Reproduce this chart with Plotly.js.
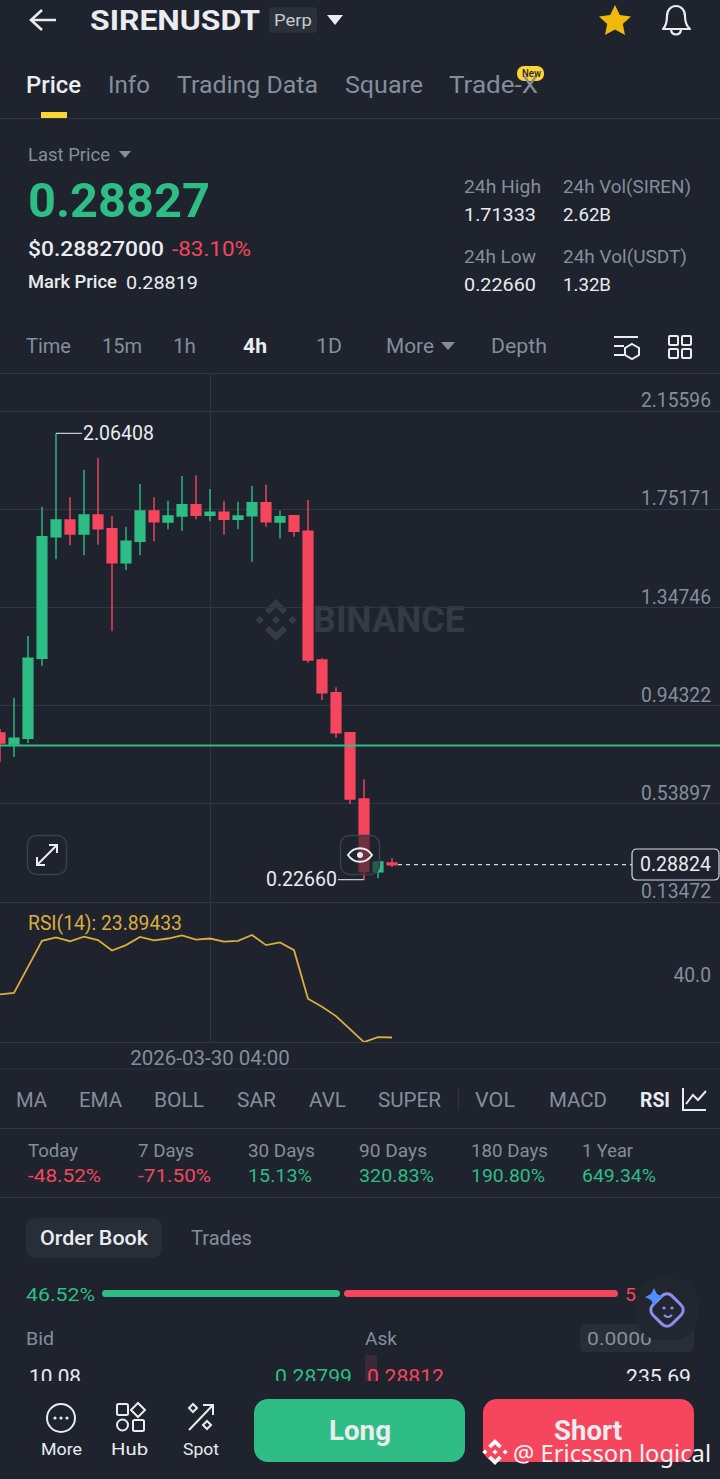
<!DOCTYPE html>
<html>
<head>
<meta charset="utf-8">
<script src="https://cdn.plot.ly/plotly-3.0.1.min.js"></script>
<style>
html,body{margin:0;padding:0;background:#1e232d;width:720px;height:1479px;overflow:hidden}
#stage{position:relative;width:720px;height:1479px;overflow:hidden;font-family:Roboto,sans-serif}
#mark,#plot,#chrome,#clip{position:absolute}
#plot{left:0;top:373px;width:720px;height:720px}
.t{position:absolute;white-space:pre;line-height:1;transform-origin:0 50%}
</style>
</head>
<body>
<div id="stage">
  <div id="mark"></div>
  <div id="plot"></div>
  <svg id="chrome" width="720" height="1479" viewBox="0 0 720 1479" style="left:0;top:0">
    <defs>
      <g id="bnb">
        <path d="M0 -1L.52 -.48L.32 -.28L0 -.6L-.32 -.28L-.52 -.48Z"/>
        <path d="M0 1L.52 .48L.32 .28L0 .6L-.32 .28L-.52 .48Z"/>
        <path d="M0 -.2L.2 0L0 .2L-.2 0Z"/>
        <path d="M-.78 -.2L-.58 0L-.78 .2L-.98 0Z"/>
        <path d="M.78 -.2L.98 0L.78 .2L.58 0Z"/>
      </g>
    </defs>
    <g stroke="#2f3541" stroke-width="1.2">
      <path d="M0 118.5H720M0 373.5H720M0 1069H720M0 1128.5H720M0 1197.5H720"/>
      <path d="M458.5 1088V1110"/>
    </g>
    <path d="M56 20H32M42 10L31 20L42 30" fill="none" stroke="#eaecef" stroke-width="2.6"/>
    <rect x="269" y="7" width="48" height="26" rx="4" fill="#2b3139"/>
    <path d="M327 15H343L335 25Z" fill="#eaecef"/>
    <path d="M615 5L619.8 15L631 16.4L622.8 24L625 35L615 29.6L605 35L607.2 24L599 16.4L610.2 15Z" fill="#f0b90b"/>
    <path d="M663 29C667 25 667 20 667 16C667 10 671 6 676 6C681 6 685 10 685 16C685 20 685 25 690 29ZM671 30C672 36 680 36 681 30" fill="none" stroke="#eaecef" stroke-width="2.2" stroke-linejoin="round"/>
    <rect x="41" y="112" width="26" height="6" fill="#fcd535"/>
    <rect x="517" y="66" width="27" height="15" rx="7" fill="#fcd535"/>
    <path d="M119 151H131L125 158Z" fill="#848e9c"/>
    <path d="M441 342H455L448 350Z" fill="#848e9c"/>
    <g fill="none" stroke="#eaecef" stroke-width="2">
      <path d="M614 337H638M614 346H624M614 355H624"/>
      <path d="M632 344L639 348V355L632 359L625 355V348Z"/>
      <rect x="669" y="336" width="9" height="9" rx="1"/><rect x="682" y="336" width="9" height="9" rx="1"/>
      <rect x="669" y="349" width="9" height="9" rx="1"/><rect x="682" y="349" width="9" height="9" rx="1"/>
    </g>
    <rect x="27.5" y="835.5" width="39" height="39" rx="9" fill="#1e232d" stroke="#3a414d" stroke-width="1.4"/>
    <path d="M37 865L57 845M37 857V865H45M49 845H57V853" fill="none" stroke="#eaecef" stroke-width="2"/>
    <rect x="340.5" y="835.5" width="39" height="39" rx="9" fill="rgba(30,35,45,.62)" stroke="#3a414d" stroke-width="1.4"/>
    <path d="M348 855C354 846 366 846 372 855C366 864 354 864 348 855Z" fill="none" stroke="#eaecef" stroke-width="2"/>
    <circle cx="360" cy="855" r="3" fill="#eaecef"/>
    <path d="M683 1088V1110H706M686 1104L693 1095L698 1100L706 1091" fill="none" stroke="#eaecef" stroke-width="2"/>
    <rect x="26" y="1218" width="136" height="40" rx="9" fill="#282e38"/>
    <rect x="102" y="1290" width="238" height="7" rx="3.5" fill="#2ebd85"/>
    <rect x="344" y="1290" width="274" height="7" rx="3.5" fill="#f6465d"/>
    <rect x="580" y="1324" width="114" height="28" rx="5" fill="#282e38"/>
    <rect x="365" y="1355" width="12" height="26" fill="#3a2a35"/>
    <circle cx="61" cy="1418" r="14" fill="none" stroke="#eaecef" stroke-width="2"/>
    <g fill="#eaecef"><circle cx="55" cy="1418" r="1.6"/><circle cx="61" cy="1418" r="1.6"/><circle cx="67" cy="1418" r="1.6"/></g>
    <g fill="none" stroke="#eaecef" stroke-width="2">
      <rect x="117" y="1404" width="11" height="11" rx="1.5"/>
      <path d="M138 1403L145 1410L138 1417L131 1410Z"/>
      <circle cx="122.500" cy="1425" r="5.500"/>
      <rect x="133" y="1420" width="11" height="11" rx="1.5"/>
      <path d="M189 1430L213 1405M203 1405H213V1415"/>
      <path d="M193 1404L197 1408L193 1412L189 1408Z"/>
      <path d="M207 1421L211 1425L207 1429L203 1425Z"/>
    </g>
    <rect x="254" y="1399" width="211" height="63" rx="14" fill="#2ebd85"/>
    <rect x="483" y="1399" width="211" height="63" rx="14" fill="#f6465d"/>
  </svg>
</div>
<script>
// ---------- chart data ----------
var times = ['2026-03-27 16:00','2026-03-27 20:00','2026-03-28 00:00','2026-03-28 04:00','2026-03-28 08:00','2026-03-28 12:00','2026-03-28 16:00','2026-03-28 20:00','2026-03-29 00:00','2026-03-29 04:00','2026-03-29 08:00','2026-03-29 12:00','2026-03-29 16:00','2026-03-29 20:00','2026-03-30 00:00','2026-03-30 04:00','2026-03-30 08:00','2026-03-30 12:00','2026-03-30 16:00','2026-03-30 20:00','2026-03-31 00:00','2026-03-31 04:00','2026-03-31 08:00','2026-03-31 12:00','2026-03-31 16:00','2026-03-31 20:00','2026-04-01 00:00','2026-04-01 04:00','2026-04-01 08:00'];
var opens  = [.8304,.7851,.8086,1.1379,1.6385,1.7072,1.6496,1.7278,1.6714,1.5315,1.6196,1.7443,1.6990,1.7237,1.7702,1.7266,1.7390,1.7101,1.7250,1.7785,1.6990,1.7250,1.6607,1.1309,.9963,.8317,.5587,.2594,.2953];
var highs  = [.8469,.9757,1.2297,1.7620,2.06408,1.8007,1.9131,1.9625,1.7237,1.6797,1.8555,1.8007,1.7867,1.8884,1.8913,1.8349,1.7867,1.7826,1.8472,1.8526,1.7455,1.7278,1.7896,1.1379,1.0185,.8350,.6398,.3014,.3146];
var lows   = [.7110,.7316,.7893,1.1075,1.5455,1.6031,1.5619,1.6056,1.2491,1.5014,1.5619,1.6196,1.6690,1.6632,1.7101,1.7019,1.6467,1.6690,1.5356,1.6797,1.6319,1.6385,1.1198,.9663,.8111,.5381,.2266,.2323,.2788];
var closes = [.7893,.8086,1.1379,1.6385,1.7072,1.6496,1.7278,1.6714,1.5315,1.6196,1.7443,1.7003,1.7237,1.7702,1.7266,1.7390,1.7101,1.7237,1.7785,1.7003,1.7208,1.6607,1.1309,.9963,.8317,.5587,.2594,.2994,.28824];
var rsi    = [35.0,35.4,42.1,48.8,49.7,48.7,49.9,49.0,46.3,47.7,49.8,48.9,49.4,50.2,49.1,49.4,48.6,48.8,50.3,47.7,48.4,46.4,33.9,31.8,29.4,26.0,22.7,24.0,23.89];
var priceTicks = [2.15596,1.75171,1.34746,0.94322,0.53897,0.13472];
var priceTickText = ['2.15596','1.75171','1.34746','0.94322','0.53897','0.13472'];
var rsiTicks = [40];
var rsiTickText = ['40.0'];
var xTick = ['2026-03-30 04:00'];
var highMark = 2.06408, lowMark = 0.22660, lastPrice = 0.28824, fairLine = 0.7789;

// ---------- geometry of the plot box ----------
var H = 720, TOP = 373;
function fy(py){ return 1 - (py - TOP) / H; }
function fx(px){ return px / 720; }
var GREEN='#2ebd85', RED='#f6465d', GRID='#2f3541', TICK='#848e9c', WHITE='#eaecef', RSI='#dcae3c';

var lastBox = 'M'+fx(637)+' '+fy(849)+' L'+fx(714)+' '+fy(849)+' Q'+fx(719)+' '+fy(849)+' '+fx(719)+' '+fy(854)+' L'+fx(719)+' '+fy(875)+' Q'+fx(719)+' '+fy(880)+' '+fx(714)+' '+fy(880)+' L'+fx(637)+' '+fy(880)+' Q'+fx(632)+' '+fy(880)+' '+fx(632)+' '+fy(875)+' L'+fx(632)+' '+fy(854)+' Q'+fx(632)+' '+fy(849)+' '+fx(637)+' '+fy(849)+' Z';

var traces = [
 {type:'candlestick',x:times,open:opens,high:highs,low:lows,close:closes,xaxis:'x',yaxis:'y',
  increasing:{line:{color:GREEN,width:1.4},fillcolor:GREEN},
  decreasing:{line:{color:RED,width:1.4},fillcolor:RED},
  whiskerwidth:0,hoverinfo:'skip',showlegend:false},
 {type:'scatter',mode:'lines',x:times,y:rsi,xaxis:'x',yaxis:'y2',cliponaxis:false,
  line:{color:RSI,width:1.8},hoverinfo:'skip',showlegend:false}
];
var fontTick={family:'Roboto, sans-serif',size:19.3,color:TICK};
var layout={
 width:720,height:H,margin:{l:0,r:0,t:0,b:0},
 paper_bgcolor:'rgba(0,0,0,0)',plot_bgcolor:'rgba(0,0,0,0)',
 boxgap:0,showlegend:false,
 xaxis:{type:'date',range:['2026-03-27 16:00','2026-04-05 05:42:51'],anchor:'y2',
   rangeslider:{visible:false},tickmode:'array',tickvals:xTick,ticktext:xTick,ticks:'',
   showgrid:true,gridcolor:GRID,gridwidth:1,zeroline:false,showline:true,linecolor:GRID,linewidth:1.2,
   ticklabelstandoff:-3,tickfont:{family:'Roboto, sans-serif',size:20.5,color:TICK},tickangle:0},
 yaxis:{domain:[fy(922),1],range:[0.0524,2.3124],side:'right',anchor:'x',tickmode:'array',
   tickvals:priceTicks,ticktext:priceTickText,ticklabelposition:'inside top',ticks:'',
   ticklabelstandoff:6,ticklabelshift:3,
   showgrid:true,gridcolor:GRID,gridwidth:1,zeroline:false,showline:false,tickfont:fontTick},
 yaxis2:{domain:[fy(1042),fy(902)],range:[22.73,58.81],side:'right',anchor:'x',tickmode:'array',
   tickvals:rsiTicks,ticktext:rsiTickText,ticklabelposition:'inside',ticks:'',ticklabelstandoff:6,
   showgrid:false,zeroline:false,showline:false,tickfont:fontTick},
 shapes:[
  {type:'line',xref:'paper',yref:'y',x0:0,x1:1,y0:fairLine,y1:fairLine,line:{color:GREEN,width:1.8}},
  {type:'line',xref:'paper',yref:'y',x0:fx(398),x1:fx(632),y0:lastPrice,y1:lastPrice,line:{color:'#d5d9df',width:1.2,dash:'4px,4px'}},
  {type:'path',xref:'paper',yref:'paper',path:lastBox,fillcolor:'#1e232d',line:{color:'#d5d9df',width:1.2}}
 ],
 annotations:[
  {x:times[4],y:highMark,xref:'x',yref:'y',ax:26,ay:0,xanchor:'left',yanchor:'middle',text:'2.06408',showarrow:true,arrowhead:0,arrowwidth:1.2,arrowcolor:'#c5c9d0',standoff:0,borderpad:0,font:{family:'Roboto, sans-serif',size:19.5,color:WHITE}},
  {x:times[26],y:lowMark,xref:'x',yref:'y',ax:-26,ay:0,xanchor:'right',yanchor:'middle',text:'0.22660',showarrow:true,arrowhead:0,arrowwidth:1.2,arrowcolor:'#c5c9d0',standoff:0,borderpad:0,font:{family:'Roboto, sans-serif',size:19.5,color:WHITE}},
  {xref:'paper',yref:'y',x:fx(675.5),y:lastPrice,xanchor:'center',yanchor:'middle',showarrow:false,text:'0.28824',font:{family:'Roboto, sans-serif',size:19.5,color:WHITE}},
  {xref:'paper',yref:'paper',x:fx(26),y:fy(923),xanchor:'left',yanchor:'middle',showarrow:false,text:'RSI(14): 23.89433',font:{family:'Roboto, sans-serif',size:19.3,color:RSI}}
 ]
};

// ---------- app chrome text ----------
var stage=document.getElementById('stage');
function T(s,x0,x1,y,size,color,weight,family,parent,op){
  var e=document.createElement('div');e.className='t';e.textContent=s;
  e.style.left=x0+'px';e.style.top=y+'px';e.style.fontSize=size+'px';e.style.color=color;
  e.style.fontWeight=weight||400;if(family)e.style.fontFamily=family;if(op)e.style.opacity=op;
  (parent||stage).appendChild(e);
  var w=e.getBoundingClientRect().width;
  e.style.transform='translateY(-50%) scaleX('+((x1-x0)/w).toFixed(3)+')';
  return e;
}
var G=TICK,W=WHITE;
T('SIRENUSDT',90,260,21,28.5,W,700);
T('Perp',274,312,21,16.5,'#c5cad2');
T('Price',26,81,85,24,W,500);T('Info',108,150,85,24,G);T('Trading Data',177,318,85,24,G);T('Square',345,423,85,24,G);T('Trade-X',449,538,85,24,G);
T('New',522,541,73.500,10.500,'#1e232d',500);
T('Last Price',28,110,156,17.500,G);
T('0.28827',28,210,200,49,GREEN,700);
T('$0.28827000',28,164,249,20.500,W,500);T('-83.10%',172,251,249,20,RED);
T('Mark Price',28,117,283,17.500,W,500);T('0.28819',126,198,283,18,W);
T('24h High',464,541,187,18,G);T('24h Vol(SIREN)',563,691,187,18,G);
T('1.71333',464,536,215,18.500,W);T('2.62B',563,611,215,18.500,W);
T('24h Low',464,536,257,18,G);T('24h Vol(USDT)',563,687,257,18,G);
T('0.22660',464,536,285,18.500,W);T('1.32B',563,611,285,18.500,W);
T('Time',26,71,346,20,G);T('15m',102,142,346,20,G);T('1h',173,196,346,20,G);T('4h',243,267,346,20,W,700);T('1D',316,342,346,20,G);T('More',386,434,346,20,G);T('Depth',491,547,346,20,G);
[['MA',16,47],['EMA',79,122],['BOLL',154,204],['SAR',237,276],['AVL',309,346],['SUPER',378,441],['VOL',475,515],['MACD',549,607]].forEach(function(a){T(a[0],a[1],a[2],1100,20,G);});
T('RSI',640,670,1100,20,W,700);
var periods=['Today','7 Days','30 Days','90 Days','180 Days','1 Year'];
var changes=['-48.52%','-71.50%','15.13%','320.83%','190.80%','649.34%'];
var px0=[28,138,248,359,471,582],px1=[78,194,315,427,548,633],vx1=[101,211,312,434,545,656];
periods.forEach(function(p,i){
  T(p,px0[i],px1[i],1151,18,G);
  T(changes[i],px0[i],vx1[i],1176,18.500,changes[i][0]=='-'?RED:GREEN);
});
T('Order Book',40,148,1239,19.500,W,500);T('Trades',191,252,1239,19.500,G);
T('46.52%',26,95,1294,19,GREEN);T('5',625,636,1294,19,RED);
T('Bid',26,54,1339,18,G);T('Ask',365,397,1339,18,G);T('0.0000',587,652,1339,18,G);
var clip=document.createElement('div');clip.id='clip';
clip.style.cssText='position:absolute;left:0;top:1360px;width:720px;height:21px;overflow:hidden';stage.appendChild(clip);
T('10.08',29,81,17,20.500,W,400,null,clip);T('0.28799',275,352,17,20.500,GREEN,400,null,clip);T('0.28812',367,444,17,20.500,RED,400,null,clip);T('235.69',626,691,17,20.500,W,400,null,clip);
T('More',41,82,1449,17,W);T('Hub',111,148,1449,17,W);T('Spot',183,219,1449,17,W);
T('Long',329,391,1431,27,W,700);T('Short',554,622,1431,27,W,700);
var mark=document.getElementById('mark');mark.style.cssText='position:absolute;left:0;top:0;width:720px;height:1479px';
T('BINANCE',313,465,620,36,'#343a46',700,null,mark);
var NS='http://www.w3.org/2000/svg';
var svg2=document.createElementNS(NS,'svg');svg2.setAttribute('width',720);svg2.setAttribute('height',1479);svg2.style.cssText='position:absolute;left:0;top:0';
svg2.innerHTML='<use href="#bnb" transform="translate(276 620) scale(21)" fill="#343a46"/>';
mark.appendChild(svg2);
var chromeSvg=document.createElementNS(NS,'svg');chromeSvg.setAttribute('width',720);chromeSvg.setAttribute('height',1479);chromeSvg.style.cssText='position:absolute;left:0;top:0';
chromeSvg.innerHTML='<rect x="636" y="1278" width="62" height="62" rx="24" fill="#21262f"/>'+
 '<rect x="653.5" y="1296.500" width="27" height="27" rx="7" transform="rotate(45 667 1310)" fill="none" stroke="#8f8cf0" stroke-width="3"/>'+
 '<path d="M654 1288L657 1294L663 1297L657 1300L654 1306L651 1300L645 1297L651 1294Z" fill="#4c8dff"/>'+
 '<circle cx="664" cy="1308" r="1.6" fill="#8f8cf0"/><circle cx="672" cy="1308" r="1.6" fill="#8f8cf0"/>'+
 '<path d="M664 1315Q668 1319 672 1315" fill="none" stroke="#8f8cf0" stroke-width="2"/>'+
 '<use href="#bnb" transform="translate(495 1452) scale(13)" fill="#ffffff"/>';
stage.appendChild(chromeSvg);
T('@ Ericsson logical',513,711,1453,24,'#f2f3f5',400,'"Noto Sans", sans-serif');

Plotly.newPlot('plot',traces,layout,{staticPlot:true,displayModeBar:false,responsive:false});
</script>
</body>
</html>
